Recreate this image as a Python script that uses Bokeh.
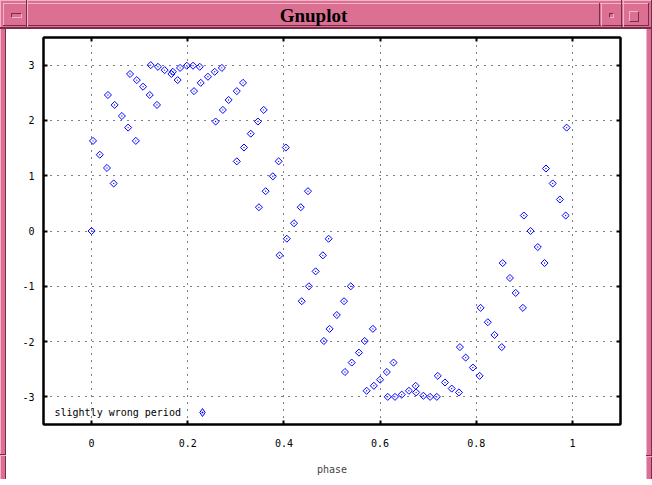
import math
from bokeh.plotting import figure
from bokeh.models import (Range1d, LinearAxis, FixedTicker, Label, Legend,
                          LegendItem, Div, CustomJSTickFormatter)
from bokeh.layouts import column, row
from bokeh.embed import file_html
from bokeh.resources import INLINE

# ---- data ----
phase = [0.000, 0.003, 0.017, 0.032, 0.034, 0.046, 0.048, 0.063, 0.076, 0.080,
         0.092, 0.094, 0.107, 0.121, 0.123, 0.136, 0.138, 0.152, 0.166, 0.169,
         0.179, 0.184, 0.198, 0.211, 0.213, 0.225, 0.227, 0.242, 0.256, 0.258,
         0.271, 0.273, 0.285, 0.302, 0.302, 0.315, 0.317, 0.331, 0.346, 0.348,
         0.358, 0.362, 0.377, 0.389, 0.391, 0.404, 0.406, 0.421, 0.435, 0.437,
         0.450, 0.452, 0.466, 0.481, 0.483, 0.493, 0.495, 0.510, 0.525, 0.527,
         0.539, 0.541, 0.556, 0.568, 0.572, 0.585, 0.587, 0.600, 0.614, 0.616,
         0.628, 0.631, 0.645, 0.660, 0.674, 0.675, 0.690, 0.704, 0.718, 0.720,
         0.735, 0.749, 0.764, 0.766, 0.778, 0.793, 0.807, 0.809, 0.824, 0.838,
         0.853, 0.855, 0.870, 0.882, 0.897, 0.899, 0.913, 0.928, 0.942, 0.945,
         0.959, 0.974, 0.986, 0.988]
signal = [0.00, 1.63, 1.38, 1.14, 2.46, 0.86, 2.28, 2.08, 1.87, 2.84,
          1.63, 2.73, 2.61, 2.46, 3.00, 2.28, 2.97, 2.91, 2.84, 2.88,
          2.73, 2.95, 2.99, 2.99, 2.53, 2.97, 2.68, 2.79, 2.88, 1.98,
          2.95, 2.19, 2.37, 2.53, 1.26, 2.68, 1.51, 1.76, 1.98, 0.43,
          2.19, 0.72, 0.99, 1.26, -0.44, 1.51, -0.14, 0.14, 0.43, -1.27,
          0.72, -1.00, -0.73, -0.44, -1.99, -0.14, -1.77, -1.52, -1.27, -2.55,
          -1.00, -2.38, -2.20, -1.99, -2.89, -1.77, -2.80, -2.69, -2.55, -3.00,
          -2.38, -3.00, -2.96, -2.89, -2.80, -2.92, -2.98, -3.00, -3.00, -2.62,
          -2.74, -2.85, -2.92, -2.10, -2.29, -2.47, -2.62, -1.39, -1.65, -1.88,
          -2.10, -0.58, -0.85, -1.12, -1.39, 0.28, 0.00, -0.29, -0.58, 1.13,
          0.86, 0.57, 0.28, 1.87]

x_ticks = [0, 0.2, 0.4, 0.6, 0.8, 1.0]
x_tick_labels = ["0", "0.2", "0.4", "0.6", "0.8", "1"]
y_ticks = [-3, -2, -1, 0, 1, 2, 3]
y_tick_labels = ["-3", "-2", "-1", "0", "1", "2", "3"]
series_label = "slightly wrong period"
x_label = "phase"
window_title = "Gnuplot"

# ---- styles ----
PINK = "#db7093"
LIGHT = "#f4b3c8"
DARK = "#7a2d4a"
BLUE = "#0000ff"
FONT = "DejaVu Sans Mono"

p = figure(width=640, height=450, x_range=Range1d(-0.1, 1.1), y_range=Range1d(-3.5, 3.5),
           output_backend="svg", toolbar_location=None,
           min_border_left=37, min_border_right=26, min_border_top=8, min_border_bottom=55)
p.background_fill_color = "white"
p.border_fill_color = "white"
p.outline_line_color = "black"
p.outline_line_width = 2


def style_axis(ax, ticks, labels=None):
    ax.ticker = FixedTicker(ticks=ticks)
    if labels is not None:
        ax.major_label_overrides = {t: l for t, l in zip(ticks, labels)}
    else:
        ax.formatter = CustomJSTickFormatter(code="return ''")
        ax.major_label_standoff = 0
    ax.axis_line_color = "black"
    ax.axis_line_width = 2
    ax.major_tick_in = 4
    ax.major_tick_out = 0
    ax.major_tick_line_width = 2
    ax.major_tick_line_color = "black"
    ax.minor_tick_line_color = None
    ax.major_label_text_font = FONT
    ax.major_label_text_font_size = "10px"
    ax.major_label_text_color = "black"


style_axis(p.xaxis[0], x_ticks, x_tick_labels)
style_axis(p.yaxis[0], y_ticks, y_tick_labels)
p.xaxis[0].major_label_standoff = 14
p.yaxis[0].major_label_standoff = 9
p.xaxis[0].axis_label = x_label
p.xaxis[0].axis_label_text_font = FONT
p.xaxis[0].axis_label_text_font_size = "10px"
p.xaxis[0].axis_label_text_font_style = "normal"
p.xaxis[0].axis_label_standoff = 14

ax_r = LinearAxis()
style_axis(ax_r, y_ticks)
p.add_layout(ax_r, "right")
ax_t = LinearAxis()
style_axis(ax_t, x_ticks)
p.add_layout(ax_t, "above")

for g in (p.xgrid[0], p.ygrid[0]):
    g.grid_line_color = "black"
    g.grid_line_width = 1
    g.grid_line_dash = "1 6"
p.xgrid[0].ticker = FixedTicker(ticks=x_ticks)
p.ygrid[0].ticker = FixedTicker(ticks=y_ticks)

r = p.scatter(phase, signal, marker="square_dot", angle=math.pi / 4, size=5,
              line_color=BLUE, fill_color=None, line_width=1)
# hidden twin used only to draw an upright diamond in the key
r_key = p.scatter(phase, signal, marker="diamond_dot", size=9,
                  line_color=BLUE, fill_color=None, line_width=1, visible=False)

# key: text, then the point sample to its right (gnuplot style)
p.add_layout(Label(x=11, y=12, x_units="screen", y_units="screen", text=series_label,
                   text_font=FONT, text_font_size="10px", text_baseline="middle",
                   text_color="black"))
legend = Legend(items=[LegendItem(label=" ", renderers=[r_key])], location=(149, 2),
                padding=0, margin=0, border_line_color=None, background_fill_alpha=0,
                glyph_width=20, glyph_height=20, label_standoff=0,
                label_text_font_size="10px", label_height=20, spacing=0,
                inactive_fill_alpha=0)
p.add_layout(legend)

# ---- window frame ----
def box(l, t, w, h, css):
    return f'<div style="position:absolute;left:{l}px;top:{t}px;width:{w}px;height:{h}px;{css}"></div>'


parts = [
    box(0, 0, 652, 1, f"background:{LIGHT};"),
    box(0, 0, 1, 29, f"background:{LIGHT};"),
    box(651, 0, 1, 29, f"background:{DARK};"),
    box(3, 3, 645, 1, f"background:{LIGHT};"),
    box(3, 3, 1, 22, f"background:{LIGHT};"),
    box(3, 25, 646, 1, f"background:{DARK};"),
    box(648, 3, 1, 23, f"background:{DARK};"),
    box(0, 27, 652, 2, f"background:{DARK};"),
    box(26, 0, 1, 27, f"background:{DARK};"),
    box(27, 0, 1, 27, f"background:{LIGHT};"),
    box(599, 3, 1, 23, f"background:{DARK};"),
    box(601, 3, 1, 23, f"background:{LIGHT};"),
    box(621, 0, 1, 27, f"background:{DARK};"),
    box(623, 0, 1, 27, f"background:{LIGHT};"),
    box(11, 13, 11, 5, f"border:1px solid;border-color:{DARK} {LIGHT} {LIGHT} {DARK};"),
    box(609, 13, 5, 5, f"border:1px solid;border-color:{DARK} {LIGHT} {LIGHT} {DARK};"),
    box(629, 11, 10, 11, f"border:1px solid;border-color:{LIGHT} {DARK} {DARK} {LIGHT};"),
    f'<div style="position:absolute;left:28px;top:6px;width:571px;text-align:center;'
    f"font-family:'Liberation Serif';font-weight:bold;font-size:19px;line-height:19px;"
    f'color:black;">{window_title}</div>',
]
title_html = (f'<div style="position:relative;width:652px;height:29px;background:{PINK};'
              f'overflow:hidden;">' + "".join(parts) + "</div>")
title_div = Div(text=title_html, width=652, height=29, margin=0)

left_html = (f'<div style="position:relative;width:6px;height:450px;background:{PINK};overflow:hidden;">'
             + box(0, 0, 1, 450, f"background:{LIGHT};")
             + box(5, 0, 1, 450, f"background:{DARK};")
             + box(0, 425, 6, 1, f"background:{DARK};")
             + box(0, 426, 6, 1, f"background:{LIGHT};") + "</div>")
right_html = (f'<div style="position:relative;width:6px;height:450px;background:{PINK};overflow:hidden;">'
              + box(0, 0, 1, 450, f"background:{LIGHT};")
              + box(5, 0, 1, 450, f"background:{DARK};")
              + box(0, 426, 6, 1, f"background:{DARK};")
              + box(0, 427, 6, 1, f"background:{LIGHT};") + "</div>")
bottom_html = (f'<div style="position:relative;width:652px;height:6px;background:{PINK};overflow:hidden;">'
               + box(0, 0, 652, 1, f"background:{LIGHT};")
               + box(0, 0, 1, 6, f"background:{LIGHT};")
               + box(0, 5, 652, 1, f"background:{DARK};")
               + box(651, 0, 1, 6, f"background:{DARK};")
               + box(27, 0, 1, 6, f"background:{DARK};")
               + box(28, 0, 1, 6, f"background:{LIGHT};")
               + box(623, 0, 1, 6, f"background:{DARK};")
               + box(624, 0, 1, 6, f"background:{LIGHT};") + "</div>")

left_div = Div(text=left_html, width=6, height=450, margin=0)
right_div = Div(text=right_html, width=6, height=450, margin=0)
bottom_div = Div(text=bottom_html, width=652, height=6, margin=0)

layout = column(title_div, row(left_div, p, right_div, spacing=0), bottom_div, spacing=0)

open("out.html", "w").write(file_html(layout, INLINE))
